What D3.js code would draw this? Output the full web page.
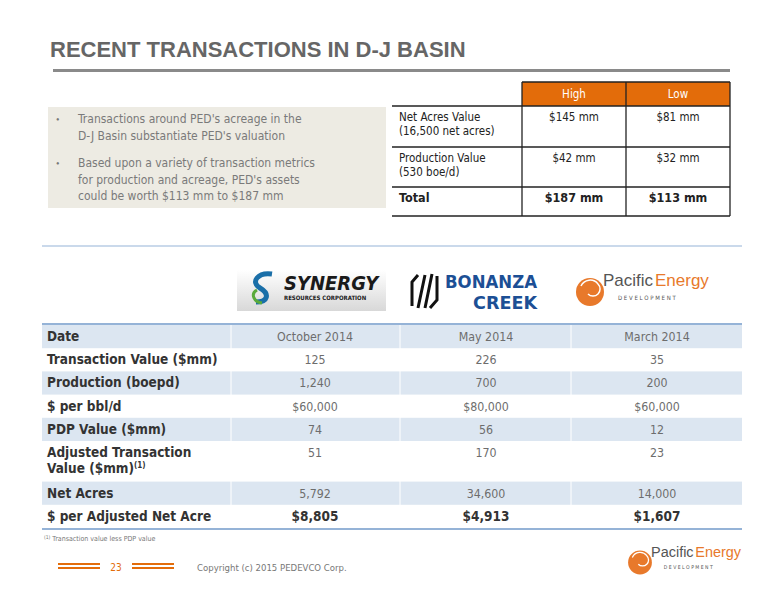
<!DOCTYPE html>
<html><head><meta charset="utf-8">
<script src="https://cdn.jsdelivr.net/npm/d3@7"></script>
<style>body{margin:0;background:#fff}svg{display:block}</style>
</head><body><svg id="s" width="776" height="600"></svg>
<script>
// top summary table
var sumCols = ["", "High", "Low"]
var sumLabels = [["Net Acres Value", "(16,500 net acres)"], ["Production Value", "(530 boe/d)"], ["Total"]]
var sumHigh = ["$145 mm", "$42 mm", "$187 mm"]
var sumLow = ["$81 mm", "$32 mm", "$113 mm"]
var bullets = [["Transactions around PED's acreage in the", "D-J Basin substantiate PED's valuation"],
  ["Based upon a variety of transaction metrics", "for production and acreage, PED's assets", "could be worth $113 mm to $187 mm"]]

// comparison table
var rowLabels = ["Date", "Transaction Value ($mm)", "Production (boepd)", "$ per bbl/d", "PDP Value ($mm)",
  "Adjusted Transaction|Value ($mm)", "Net Acres", "$ per Adjusted Net Acre"]
var rowUnits = [1, 1, 1, 1, 1, 1.75, 1, 1]
var synergy = ["October 2014", "125", "1,240", "$60,000", "74", "51", "5,792", "$8,805"]
var bonanza = ["May 2014", "226", "700", "$80,000", "56", "170", "34,600", "$4,913"]
var pacific = ["March 2014", "35", "200", "$60,000", "12", "23", "14,000", "$1,607"]

var svg = d3.select("#s")
var orange = "#e36c0a", grey = "#6d6d6d"
var lightFont = "'DejaVu Sans Condensed','DejaVu Sans', sans-serif", boldFont = "'Liberation Sans Narrow','DejaVu Sans Condensed',sans-serif"

// title
svg.append("text").attr("x", 50).attr("y", 57).text("RECENT TRANSACTIONS IN D-J BASIN")
  .attr("font-family", "Liberation Sans, Arial").attr("font-weight", "bold").attr("font-size", 22).attr("fill", "#666")
svg.append("rect").attr("x", 53).attr("y", 69).attr("width", 677).attr("height", 3).attr("fill", "#8a8a8a")

// bullet box
svg.append("rect").attr("x", 48).attr("y", 107).attr("width", 338).attr("height", 101).attr("fill", "#edebe3")
var by = 123
bullets.forEach(function (b) {
  svg.append("text").attr("x", 56).attr("y", by).text("•").attr("font-size", 10).attr("fill", "#777")
  b.forEach(function (l, i) {
    svg.append("text").attr("x", 78).attr("y", by + i * 16.5).text(l)
      .attr("font-family", lightFont).attr("font-size", 12).attr("fill", "#7a7a7a")
  })
  by += b.length * 16.5 + 11
})

// summary table
var sx = d3.scaleOrdinal().domain([0, 1, 2]).range([392, 522, 626])
var sw = [130, 104, 104]
var sy = d3.scaleOrdinal().domain([0, 1, 2]).range([106, 147, 187])
svg.append("rect").attr("x", sx(1)).attr("y", 82).attr("width", 208).attr("height", 24).attr("fill", orange)
;[1, 2].forEach(function (c) {
  svg.append("text").attr("x", sx(c) + sw[c] / 2).attr("y", 98).attr("text-anchor", "middle").text(sumCols[c])
    .attr("font-family", lightFont).attr("font-size", 11.5).attr("fill", "#fff")
})
sumLabels.forEach(function (l, r) {
  var bold = r == 2
  l.forEach(function (t, i) {
    svg.append("text").attr("x", sx(0) + 7).attr("y", sy(r) + 15 + i * 14).text(t)
      .attr("font-family", bold ? boldFont : lightFont).attr("font-weight", bold ? "bold" : null).attr("font-size", bold ? 12.5 : 11.5).attr("fill", "#222")
  })
  ;[sumHigh[r], sumLow[r]].forEach(function (v, k) {
    svg.append("text").attr("x", sx(k + 1) + sw[k + 1] / 2).attr("y", sy(r) + 15).attr("text-anchor", "middle").text(v)
      .attr("font-family", bold ? boldFont : lightFont).attr("font-weight", bold ? "bold" : null).attr("font-size", bold ? 12.5 : 11.5).attr("fill", "#222")
  })
  svg.append("line").attr("x1", 392).attr("x2", 730).attr("y1", sy(r)).attr("y2", sy(r)).attr("stroke", "#222").attr("stroke-width", 1.3)
})
svg.append("line").attr("x1", 392).attr("x2", 730).attr("y1", 216).attr("y2", 216).attr("stroke", "#222").attr("stroke-width", 1.3)
;[522, 626, 730].forEach(function (x) {
  svg.append("line").attr("x1", x).attr("x2", x).attr("y1", 82).attr("y2", 216).attr("stroke", "#222").attr("stroke-width", 1.3)
})
svg.append("line").attr("x1", 522).attr("x2", 730).attr("y1", 82).attr("y2", 82).attr("stroke", "#222").attr("stroke-width", 1.3)

// divider
svg.append("line").attr("x1", 42).attr("x2", 742).attr("y1", 246).attr("y2", 246).attr("stroke", "#95b3d7").attr("stroke-width", 1.2)

// logos
var g1 = svg.append("defs").append("linearGradient").attr("id", "gg").attr("x1", 0).attr("y1", 0).attr("x2", 0).attr("y2", 1)
g1.append("stop").attr("offset", 0).attr("stop-color", "#fff")
g1.append("stop").attr("offset", 1).attr("stop-color", "#d8d8d8")
svg.append("rect").attr("x", 237).attr("y", 270).attr("width", 149).attr("height", 41).attr("fill", "url(#gg)")
svg.append("path").attr("d", "M272,274 C258,272 250,282 260,288 C270,294 268,302 256,302").attr("fill", "none").attr("stroke", "#1a6fa8").attr("stroke-width", 5)
svg.append("path").attr("d", "M257,290 C250,294 254,302 262,303").attr("fill", "none").attr("stroke", "#5aaa3c").attr("stroke-width", 3)
svg.append("text").attr("x", 284).attr("y", 290).text("SYNERGY").attr("font-family", boldFont).attr("font-weight", "bold").attr("font-style", "italic").attr("font-size", 20).attr("fill", "#1a1a1a")
svg.append("text").attr("x", 284).attr("y", 300).text("RESOURCES CORPORATION").attr("font-family", boldFont).attr("font-weight", "bold").attr("font-size", 6).attr("fill", "#1a1a1a")

svg.append("path").attr("d", "M418,275 L412,282 L412,306 M425,275 L418,308 M432,274 L425,308 M430,308 L437,300 L437,276")
  .attr("fill", "none").attr("stroke", "#111").attr("stroke-width", 3)
;["BONANZA", "CREEK"].forEach(function (t, i) {
  svg.append("text").attr("x", 537).attr("y", 288 + i * 21).attr("text-anchor", "end").text(t)
    .attr("font-family", boldFont).attr("font-weight", "bold").attr("font-size", 18).attr("fill", "#1c4f95")
    .attr("textLength", i == 0 ? 92 : 64).attr("lengthAdjust", "spacingAndGlyphs")
})

function pacificLogo(x, y, k) {
  var g = svg.append("g").attr("transform", "translate(" + x + "," + y + ") scale(" + k + ")")
  g.append("circle").attr("cx", 0).attr("cy", 10).attr("r", 14).attr("fill", "#e8792b")
  g.append("path").attr("d", "M-9,4 A10,10 0 0 1 8,2 A7,7 0 0 1 -2,12").attr("fill", "none").attr("stroke", "#fff").attr("stroke-width", 1.5)
  g.append("text").attr("x", 13).attr("y", 4).text("Pacific").attr("font-family", "'Liberation Sans Narrow',sans-serif").attr("font-size", 17).attr("fill", "#555")
  g.append("text").attr("x", 65).attr("y", 4).text("Energy").attr("font-family", "'Liberation Sans Narrow',sans-serif").attr("font-size", 17).attr("fill", "#e8792b")
  g.append("text").attr("x", 28).attr("y", 18).text("D E V E L O P M E N T").attr("font-family", lightFont).attr("font-size", 6).attr("fill", "#555")
}
pacificLogo(590, 282, 1)
pacificLogo(640, 554, 0.85)

// comparison table
var y = d3.scaleLinear().domain([0, d3.sum(rowUnits)]).range([325, 528])
var starts = rowUnits.map(function (u, i) { return d3.sum(rowUnits.slice(0, i)) })
var colX = d3.scalePoint().domain([0, 1, 2]).range([315, 657])
var cols = [synergy, bonanza, pacific]
rowLabels.forEach(function (lab, r) {
  var y0 = y(starts[r]), y1 = y(starts[r] + rowUnits[r])
  if (r % 2 == 0 && r < 7) {
    svg.append("rect").attr("x", 42).attr("y", y0).attr("width", 700).attr("height", y1 - y0).attr("fill", "#dce6f1")
  }
  var last = r == 7
  lab.split("|").forEach(function (t, i) {
    var tx = svg.append("text").attr("x", 47).attr("y", y0 + 16 + i * 16).text(t)
      .attr("font-family", boldFont).attr("font-weight", "bold").attr("font-size", 13.5).attr("fill", "#333")
    if (r == 5 && i == 1) tx.append("tspan").attr("dy", -5).attr("font-size", 8).text("(1)")
  })
  cols.forEach(function (c, k) {
    svg.append("text").attr("x", colX(k)).attr("y", y0 + 16).attr("text-anchor", "middle").text(c[r])
      .attr("font-family", last ? boldFont : lightFont).attr("font-weight", last ? "bold" : null)
      .attr("font-size", last ? 13.5 : 12.3).attr("fill", last ? "#333" : grey)
  })
})
;[231, 400, 571].forEach(function (x) {
  svg.append("line").attr("x1", x).attr("x2", x).attr("y1", 325).attr("y2", 528).attr("stroke", "#fff").attr("stroke-width", 1)
})
svg.append("line").attr("x1", 42).attr("x2", 742).attr("y1", 324).attr("y2", 324).attr("stroke", "#95b3d7").attr("stroke-width", 2)
svg.append("line").attr("x1", 42).attr("x2", 742).attr("y1", 529).attr("y2", 529).attr("stroke", "#95b3d7").attr("stroke-width", 2)

// footnote + footer
var fn = svg.append("text").attr("x", 44).attr("y", 541).attr("font-family", lightFont).attr("font-size", 7).attr("fill", "#777")
fn.append("tspan").attr("font-size", 5).attr("dy", -2).text("(1)")
fn.append("tspan").attr("dy", 2).text(" Transaction value less PDP value")
;[58, 132].forEach(function (x) {
  svg.append("rect").attr("x", x).attr("y", 563).attr("width", 42).attr("height", 2).attr("fill", orange)
  svg.append("rect").attr("x", x).attr("y", 567).attr("width", 42).attr("height", 2).attr("fill", orange)
})
svg.append("text").attr("x", 116).attr("y", 571).attr("text-anchor", "middle").text("23").attr("font-family", lightFont).attr("font-size", 10).attr("fill", orange)
svg.append("text").attr("x", 197).attr("y", 571).text("Copyright (c) 2015 PEDEVCO Corp.").attr("font-family", lightFont).attr("font-size", 9.5).attr("fill", "#777")
</script></body></html>
